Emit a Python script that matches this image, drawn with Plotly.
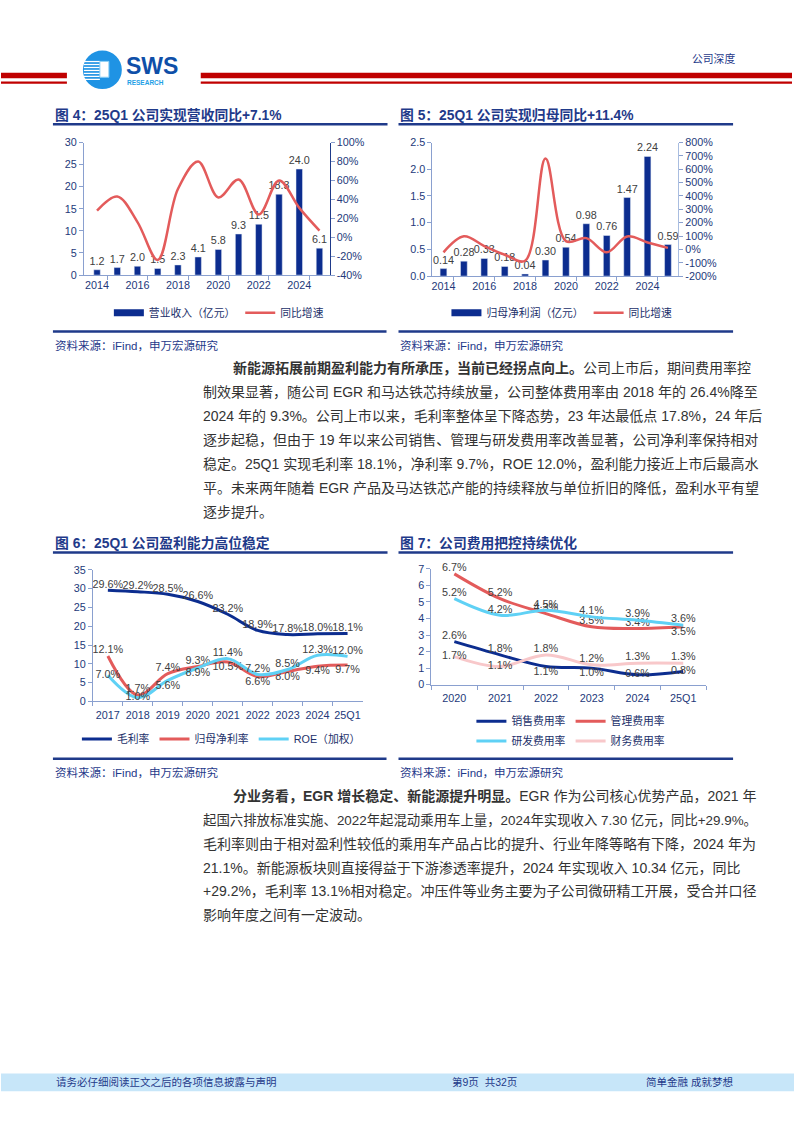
import plotly.graph_objects as go

W, H = 794, 1123
def X(px): return px / W
def Y(py): return 1 - py / H

FONT = "Liberation Sans, Noto Sans CJK SC, sans-serif"
NAVY = "#1f3a8a"
BAR = "#0c2d8f"
RED = "#e35b5b"
LBLUE = "#5fd1f5"
PINK = "#f8c8ca"
TICK = "#23397a"
AXC = "#8aa0cf"
LBL = "#404040"
LEGC = "#22306a"
TXT = "#333333"

# ---------------- data ----------------
years = [2014, 2015, 2016, 2017, 2018, 2019, 2020, 2021, 2022, 2023, 2024, 2025]
year_ticks = [2014, 2016, 2018, 2020, 2022, 2024]
revenue = [1.2, 1.7, 2.0, 1.5, 2.3, 4.1, 5.8, 9.3, 11.5, 18.3, 24.0, 6.1]
revenue_yoy = [28, 43, 16, -24, 51, 80, 42, 61, 24, 60, 31, 7]
rev_left_ticks = [0, 5, 10, 15, 20, 25, 30]
rev_right_ticks = [-40, -20, 0, 20, 40, 60, 80, 100]

netprofit = [0.14, 0.28, 0.33, 0.18, 0.04, 0.30, 0.54, 0.98, 0.76, 1.47, 2.24, 0.59]
netprofit_yoy = [-22, 98, 25, -40, -85, 680, 62, 84, -22, 97, 52, 11]
np_left_ticks = [0.0, 0.5, 1.0, 1.5, 2.0, 2.5]
np_right_ticks = [-200, -100, 0, 100, 200, 300, 400, 500, 600, 700, 800]

prof_cats = ["2017", "2018", "2019", "2020", "2021", "2022", "2023", "2024", "25Q1"]
gross_margin = [29.6, 29.2, 28.5, 26.6, 23.2, 18.9, 17.8, 18.0, 18.1]
net_margin = [12.1, 1.7, 7.4, 9.3, 10.5, 6.6, 8.0, 9.4, 9.7]
roe = [7.0, 1.0, 5.6, 8.9, 11.4, 7.2, 8.5, 12.3, 12.0]

exp_cats = ["2020", "2021", "2022", "2023", "2024", "25Q1"]
sales_rate = [2.6, 1.8, 1.1, 1.0, 0.6, 0.8]
admin_rate = [6.7, 5.2, 4.3, 3.5, 3.4, 3.5]
rd_rate = [5.2, 4.2, 4.5, 4.1, 3.9, 3.6]
fin_rate = [1.7, 1.1, 1.8, 1.2, 1.3, 1.3]

fig = go.Figure()

# ---------------- fig 4 ----------------
fig.add_trace(go.Bar(x=years, y=revenue, marker_color=BAR, width=0.32,
                     text=[f"{v:.1f}" for v in revenue], textposition="outside",
                     textfont=dict(size=10.8, color=LBL, family=FONT), constraintext="none",
                     cliponaxis=False, xaxis="x", yaxis="y", showlegend=False, hoverinfo="skip"))
fig.add_trace(go.Scatter(x=[None], y=[None], mode="lines", line=dict(color=BAR, width=7),
                         name="营业收入（亿元）", legend="legend", xaxis="x", yaxis="y"))
fig.add_trace(go.Scatter(x=years, y=revenue_yoy, mode="lines", line=dict(color=RED, width=2.5, shape="spline"),
                         name="同比增速", legend="legend", xaxis="x", yaxis="y2"))

# ---------------- fig 5 ----------------
fig.add_trace(go.Bar(x=years, y=netprofit, marker_color=BAR, width=0.33,
                     text=[f"{v:.2f}" for v in netprofit], textposition="outside",
                     textfont=dict(size=10.8, color=LBL, family=FONT), constraintext="none",
                     cliponaxis=False, xaxis="x2", yaxis="y3", showlegend=False, hoverinfo="skip"))
fig.add_trace(go.Scatter(x=[None], y=[None], mode="lines", line=dict(color=BAR, width=7),
                         name="归母净利润（亿元）", legend="legend2", xaxis="x2", yaxis="y3"))
fig.add_trace(go.Scatter(x=years, y=netprofit_yoy, mode="lines", line=dict(color=RED, width=2.5, shape="spline"),
                         name="同比增速", legend="legend2", xaxis="x2", yaxis="y4"))

# ---------------- fig 6 ----------------
def pct(vals):
    return [f"{v:.1f}%" for v in vals]

fig.add_trace(go.Scatter(x=prof_cats, y=gross_margin, mode="lines+text", text=pct(gross_margin),
                         textposition="top center", textfont=dict(size=10.8, color=LBL),
                         line=dict(color=BAR, width=3, shape="spline"), name="毛利率",
                         legend="legend3", xaxis="x3", yaxis="y5", cliponaxis=False))
fig.add_trace(go.Scatter(x=prof_cats, y=net_margin, mode="lines+text", text=pct(net_margin),
                         textposition=["top center"] * 4 + ["bottom center"] * 5,
                         textfont=dict(size=10.8, color=LBL),
                         line=dict(color=RED, width=3, shape="spline"), name="归母净利率",
                         legend="legend3", xaxis="x3", yaxis="y5", cliponaxis=False))
fig.add_trace(go.Scatter(x=prof_cats, y=roe, mode="lines+text", text=pct(roe),
                         textposition=["middle center", "middle center", "bottom center", "bottom center"] + ["top center"] * 5,
                         textfont=dict(size=10.8, color=LBL),
                         line=dict(color=LBLUE, width=3, shape="spline"), name="ROE（加权）",
                         legend="legend3", xaxis="x3", yaxis="y5", cliponaxis=False))

# ---------------- fig 7 ----------------
fig.add_trace(go.Scatter(x=exp_cats, y=sales_rate, mode="lines+text", text=pct(sales_rate),
                         textposition=["top center", "top center", "bottom center", "bottom center", "middle center", "middle center"],
                         textfont=dict(size=10.8, color=LBL),
                         line=dict(color=BAR, width=3, shape="spline"), name="销售费用率",
                         legend="legend4", xaxis="x4", yaxis="y6", cliponaxis=False))
fig.add_trace(go.Scatter(x=exp_cats, y=admin_rate, mode="lines+text", text=pct(admin_rate),
                         textposition=["top center"] * 5 + ["bottom center"],
                         textfont=dict(size=10.8, color=LBL),
                         line=dict(color=RED, width=3, shape="spline"), name="管理费用率",
                         legend="legend4", xaxis="x4", yaxis="y6", cliponaxis=False))
fig.add_trace(go.Scatter(x=exp_cats, y=rd_rate, mode="lines+text", text=pct(rd_rate),
                         textposition="top center", textfont=dict(size=10.8, color=LBL),
                         line=dict(color=LBLUE, width=3, shape="spline"), name="研发费用率",
                         legend="legend5", xaxis="x4", yaxis="y6", cliponaxis=False))
fig.add_trace(go.Scatter(x=exp_cats, y=fin_rate, mode="lines+text", text=pct(fin_rate),
                         textposition=["middle center", "middle center"] + ["top center"] * 4,
                         textfont=dict(size=10.8, color=LBL),
                         line=dict(color=PINK, width=3, shape="spline"), name="财务费用率",
                         legend="legend5", xaxis="x4", yaxis="y6", cliponaxis=False))

# ---------------- axes ----------------
base = dict(showgrid=False, zeroline=False, showline=True, linecolor=AXC, linewidth=1,
            tickfont=dict(size=10.8, color=TICK, family=FONT), ticks="outside", ticklen=4,
            tickcolor=AXC, fixedrange=True)

def xyear(domain, rng, anchor):
    d = dict(base)
    d.update(domain=domain, range=rng, anchor=anchor, tickmode="array", tickvals=year_ticks,
             ticks="", tickangle=0,
             minor=dict(ticks="outside", tick0=2014.5, dtick=2, ticklen=4, tickcolor=AXC))
    return d

def ypct(vals):
    return [("-" if v < 0 else "") + f"{abs(v)}%" for v in vals]

lay = dict(
    width=W, height=H, autosize=False, margin=dict(l=0, r=0, t=0, b=0),
    paper_bgcolor="white", plot_bgcolor="white", font=dict(family=FONT, color=TXT),
    barmode="overlay",
)
lay["xaxis"] = xyear([X(83), X(329)], [2013.35, 2025.5], "y")
lay["yaxis"] = dict(base, domain=[Y(272), Y(138)], range=[0, 30], anchor="x",
                    tickmode="array", tickvals=rev_left_ticks)
lay["yaxis2"] = dict(base, overlaying="y", side="right", anchor="x", range=[-40, 100],
                     tickmode="array", tickvals=rev_right_ticks, ticktext=ypct(rev_right_ticks), linecolor=NAVY)

lay["xaxis2"] = xyear([X(432), X(678)], [2013.46, 2025.5], "y3")
lay["yaxis3"] = dict(base, domain=[Y(273), Y(138)], range=[0, 2.5], anchor="x2",
                     tickmode="array", tickvals=np_left_ticks, tickformat=".1f")
lay["yaxis4"] = dict(base, overlaying="y3", side="right", anchor="x2", range=[-200, 800],
                     tickmode="array", tickvals=np_right_ticks, ticktext=ypct(np_right_ticks),
                     linecolor="#a9bde0")

lay["xaxis3"] = dict(base, domain=[X(92), X(362)], type="category", range=[-0.5, 8.5],
                     anchor="y5", tickson="boundaries", tickangle=0, ticklabelstandoff=4)
lay["yaxis5"] = dict(base, domain=[Y(703), Y(570)], range=[0, 35], anchor="x3",
                     tickmode="array", tickvals=[0, 5, 10, 15, 20, 25, 30, 35], ticksuffix="%")

lay["xaxis4"] = dict(base, domain=[X(431), X(706)], type="category", range=[-0.5, 5.5],
                     anchor="y6", tickson="boundaries", tickangle=0, ticklabelstandoff=3)
lay["yaxis6"] = dict(base, domain=[Y(686), Y(569)], range=[0, 7], anchor="x4",
                     tickmode="array", tickvals=[0, 1, 2, 3, 4, 5, 6, 7], ticksuffix="%")

def leg(xp, yp):
    return dict(x=X(xp), y=Y(yp), xanchor="left", yanchor="middle", orientation="h",
                font=dict(size=10.8, color=LEGC, family=FONT), bgcolor="rgba(0,0,0,0)",
                itemwidth=30, tracegroupgap=0)

lay["legend"] = leg(108, 310)
lay["legend2"] = leg(446, 310)
lay["legend3"] = leg(76, 741)
lay["legend4"] = leg(471, 723)
lay["legend5"] = leg(471, 743)

fig.update_layout(**lay)

# ---------------- page decoration ----------------
shapes = []
def rect(x0, y0, x1, y1, color, line=None):
    shapes.append(dict(type="rect", xref="paper", yref="paper", x0=X(x0), x1=X(x1), y0=Y(y1), y1=Y(y0),
                       fillcolor=color, line=dict(width=0) if line is None else line, layer="above"))

def hline(x0, x1, y, color, w):
    shapes.append(dict(type="line", xref="paper", yref="paper", x0=X(x0), x1=X(x1), y0=Y(y), y1=Y(y),
                       line=dict(color=color, width=w)))

# header red bars
rect(0, 67.5, 66, 73, "#c00000")
rect(0, 76.3, 66, 78.5, "#c00000")
rect(200, 67.5, 792, 73, "#c00000")
rect(200, 76.3, 792, 78.5, "#c00000")
# logo
shapes.append(dict(type="circle", xref="paper", yref="paper", x0=X(82), x1=X(121), y0=Y(84), y1=Y(45),
                   fillcolor="#1f93e4", line=dict(width=0)))
for sy in [55.5, 58.5, 61.5, 64.5, 67.5, 70.5, 73.5]:
    rect(83, sy, 99, sy + 1.3, "white")
rect(99, 56, 108, 72, "white", line=dict(color="#8fd0f5", width=1))
# footer band
rect(0, 1079, 794, 1097, "#c7e6f9")
# chart title underlines and bottom rules
hline(52, 387, 119.5, NAVY, 2.5)
hline(398, 733, 119.5, NAVY, 2.5)
hline(52, 387, 552.5, NAVY, 2.5)
hline(398, 733, 552.5, NAVY, 2.5)
hline(52, 386, 329, NAVY, 2.5)
hline(398, 733, 329, NAVY, 2.5)
hline(52, 386, 761, NAVY, 2.5)
hline(398, 733, 761, NAVY, 2.5)

anns = []
def text(x, y, s, size, color, anchor="left", bold=False, family=FONT, pad=1):
    anns.append(dict(xref="paper", yref="paper", x=X(x), y=Y(y), xanchor=anchor, yanchor="middle",
                     text=f"<b>{s}</b>" if bold else s, showarrow=False, borderpad=pad,
                     font=dict(size=size, color=color, family=family)))

# logo text
text(124, 61, "SWS", 23, "#0f4fa8", bold=True, pad=0)
text(125, 77, "RESEARCH", 6.5, "#1ea0e6", bold=True, pad=0)
text(690, 53, "公司深度", 10.8, NAVY)

# chart titles
text(52, 110, "图 4：25Q1 公司实现营收同比+7.1%", 13.8, NAVY, bold=True)
text(398, 110, "图 5：25Q1 公司实现归母同比+11.4%", 13.8, NAVY, bold=True)
text(52, 543, "图 6：25Q1 公司盈利能力高位稳定", 13.8, NAVY, bold=True)
text(398, 543, "图 7：公司费用把控持续优化", 13.8, NAVY, bold=True)

# sources
for sx, sy in [(52, 343), (398, 343), (52, 775), (398, 775)]:
    text(sx, sy, "资料来源：iFind，申万宏源研究", 11.5, NAVY)

# paragraph 1
p1 = [
    (230, "<b>新能源拓展前期盈利能力有所承压，当前已经拐点向上。</b>公司上市后，期间费用率控"),
    (200, "制效果显著，随公司 EGR 和马达铁芯持续放量，公司整体费用率由 2018 年的 26.4%降至"),
    (200, "2024 年的 9.3%。公司上市以来，毛利率整体呈下降态势，23 年达最低点 17.8%，24 年后"),
    (200, "逐步起稳，但由于 19 年以来公司销售、管理与研发费用率改善显著，公司净利率保持相对"),
    (200, "稳定。25Q1 实现毛利率 18.1%，净利率 9.7%，ROE 12.0%，盈利能力接近上市后最高水"),
    (200, "平。未来两年随着 EGR 产品及马达铁芯产能的持续释放与单位折旧的降低，盈利水平有望"),
    (200, "逐步提升。"),
]
for i, (lx, s) in enumerate(p1):
    text(lx, 366 + 24.3 * i, s, 14, TXT)

p2 = [
    (230, "<b>分业务看，EGR 增长稳定、新能源提升明显。</b>EGR 作为公司核心优势产品，2021 年", 14),
    (200, "起国六排放标准实施、2022年起混动乘用车上量，2024年实现收入 7.30 亿元，同比+29.9%。", 13.4),
    (200, "毛利率则由于相对盈利性较低的乘用车产品占比的提升、行业年降等略有下降，2024 年为", 14),
    (200, "21.1%。新能源板块则直接得益于下游渗透率提升，2024 年实现收入 10.34 亿元，同比", 14),
    (200, "+29.2%，毛利率 13.1%相对稳定。冲压件等业务主要为子公司微研精工开展，受合并口径", 14),
    (200, "影响年度之间有一定波动。", 14),
]
for i, (lx, s, sz) in enumerate(p2):
    text(lx, 799 + 24 * i, s, sz, TXT)

# footer
text(53, 1088, "请务必仔细阅读正文之后的各项信息披露与声明", 10.5, NAVY)
text(450, 1088, "第9页  共32页", 10.5, NAVY)
text(644, 1088, "简单金融 成就梦想", 10.5, NAVY)

fig.update_layout(shapes=shapes, annotations=anns)
fig.write_html("out.html", config={"displayModeBar": False},
               post_script="document.body.style.margin='0';document.body.style.overflow='hidden';")
